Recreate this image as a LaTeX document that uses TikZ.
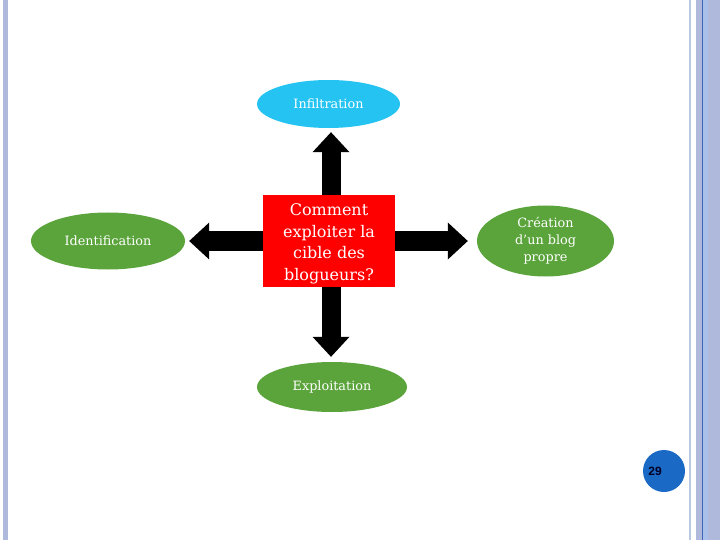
\documentclass[tikz,border=0pt]{standalone}
\usepackage{fontspec}
\usetikzlibrary{shapes.geometric,arrows.meta}
\setmainfont{DejaVu Serif}
\newfontfamily\pagenumfont{Liberation Sans}
\definecolor{framebar}{HTML}{AEB9DC}
\definecolor{framelight}{HTML}{B9C8E2}
\definecolor{framedark}{HTML}{3F66B6}
\definecolor{framemid}{HTML}{A9C0EA}
\definecolor{leafgreen}{HTML}{5BA43C}
\definecolor{skycyan}{HTML}{24C3F2}
\definecolor{pageblue}{HTML}{1A69C4}
\tikzset{
  bubble/.style={ellipse, inner sep=0pt, text=white, align=center,
    font=\fontsize{12.8}{17}\selectfont},
  bigarrow/.style={line width=19pt, black,
    -{Triangle[length=20pt,width=37pt,line width=0pt]}}
}
\begin{document}
\begin{tikzpicture}[x=1pt, y=-1pt]
  \useasboundingbox (0, 0) rectangle (720, 540);

  % Slide frame
  \fill[framebar] (3, 0) rectangle (8, 540);
  \fill[framelight] (689, 0) rectangle (691, 540);
  \fill[framebar] (696, 0) rectangle (720, 540);
  \fill[framemid] (703, 0) rectangle (708, 540);
  \fill[framedark] (702, 0) rectangle (703.3, 540);

  % Central question
  \node (question) at (329, 241) [fill=red, text=white, minimum width=132pt, minimum height=92pt,
    inner sep=0pt, align=center, font=\fontsize{16}{21.5}\selectfont]
    {\rule{0pt}{18pt}Comment\\exploiter la\\cible des\\blogueurs?};

  % Four answers
  \node (infil) at (328.5, 104) [bubble, fill=skycyan, minimum width=143pt, minimum height=48pt] {Infiltration};
  \node (ident) at (108, 241) [bubble, fill=leafgreen, minimum width=154pt, minimum height=57pt] {Identification};
  \node (blog) at (545.5, 241) [bubble, fill=leafgreen, minimum width=137pt, minimum height=71pt] {Création\\d'un blog\\propre};
  \node (exploit) at (332, 387) [bubble, fill=leafgreen, minimum width=150pt, minimum height=50pt] {Exploitation};

  % Block arrows
  \draw[bigarrow, shorten >=4pt] ([xshift=2pt]question.north) -- ([xshift=2pt]question.north |- infil.south);
  \draw[bigarrow, shorten >=4pt] (question.west) -- (ident.east);
  \draw[bigarrow, shorten >=9pt] (question.east) -- (blog.west);
  \draw[bigarrow, shorten >=5pt] ([xshift=2pt]question.south) -- ([xshift=2pt]question.south |- exploit.north);

  % Page number
  \node (pagenum) at (664, 471) [circle, fill=pageblue, minimum size=42pt, inner sep=0pt] {};
  \node at (655, 471) [font=\pagenumfont\bfseries\fontsize{12}{12}\selectfont, text=black!85!blue] {29};

\end{tikzpicture}
\end{document}
